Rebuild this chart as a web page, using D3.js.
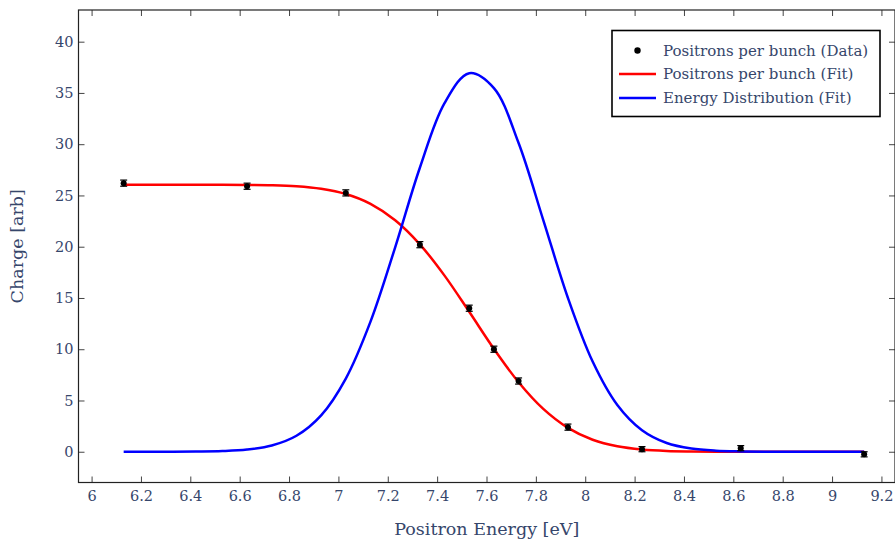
<!DOCTYPE html>
<html><head><meta charset="utf-8">
<script src="https://cdn.jsdelivr.net/npm/d3@7"></script>
<style>
body{margin:0;background:#fff;}
svg{display:block;font-family:"DejaVu Serif",serif;}
</style></head>
<body><svg id="c" width="895" height="542"></svg>
<script>
// Measured data
const energy = [6.13, 6.63, 7.03, 7.33, 7.53, 7.63, 7.73, 7.93, 8.23, 8.63, 9.13];
const charge = [26.2, 25.9, 25.25, 20.2, 14.0, 10.0, 6.9, 2.4, 0.25, 0.35, -0.25];
const chargeErr = [0.3, 0.3, 0.3, 0.3, 0.3, 0.3, 0.3, 0.3, 0.25, 0.25, 0.25];
// Fit curves
const fitEnergy = [6.13, 6.23, 6.33, 6.43, 6.53, 6.63, 6.73, 6.83, 6.93, 7.03, 7.13, 7.23, 7.33, 7.43, 7.53, 7.63, 7.73, 7.83, 7.93, 8.03, 8.13, 8.23, 8.33, 8.43, 8.53, 8.63, 8.73, 8.83, 8.93, 9.03, 9.13];
const chargeFit = [26.05, 26.05, 26.05, 26.05, 26.04, 26.03, 26.0, 25.9, 25.65, 25.14, 24.18, 22.58, 20.23, 17.18, 13.65, 10.04, 6.78, 4.18, 2.33, 1.17, 0.53, 0.22, 0.08, 0.03, 0.01, 0, 0, 0, 0, 0, 0];
const energyDist = [0, 0, 0.004, 0.017, 0.064, 0.21, 0.61, 1.56, 3.55, 7.14, 12.69, 19.94, 27.7, 34.0, 36.93, 35.47, 30.11, 22.6, 15.0, 8.8, 4.56, 2.1, 0.85, 0.31, 0.1, 0.03, 0, 0, 0, 0, 0];
const xTicks = [6, 6.2, 6.4, 6.6, 6.8, 7, 7.2, 7.4, 7.6, 7.8, 8, 8.2, 8.4, 8.6, 8.8, 9, 9.2];
const yTicks = [0, 5, 10, 15, 20, 25, 30, 35, 40];
const legendLabels = ["Positrons per bunch (Data)", "Positrons per bunch (Fit)", "Energy Distribution (Fit)"];

const textColor = "#36466b";
const L = 78.5, R = 895, T = 10, B = 482.5;
const svg = d3.select("#c");
const x = d3.scaleLinear().domain([5.947, 9.255]).range([L, R]);
const y = d3.scaleLinear().domain([-3.0, 43.09]).range([B, T]);

// axes
const gx = svg.append("g").attr("transform", `translate(0,${B})`)
  .call(d3.axisBottom(x).tickValues(xTicks).tickSize(-6).tickPadding(8).tickFormat(d3.format("~g")));
const gy = svg.append("g").attr("transform", `translate(${L},0)`)
  .call(d3.axisLeft(y).tickValues(yTicks).tickSize(-6).tickPadding(5));
const gxt = svg.append("g").attr("transform", `translate(0,${T})`)
  .call(d3.axisTop(x).tickValues(xTicks).tickSize(-6).tickFormat(""));
const gyr = svg.append("g").attr("transform", `translate(${R},0)`)
  .call(d3.axisRight(y).tickValues(yTicks).tickSize(-6).tickFormat(""));
[gx, gy, gxt, gyr].forEach(g => {
  g.select(".domain").remove();
  g.selectAll(".tick line").attr("stroke", "#444").attr("stroke-width", 1);
  g.selectAll("text").attr("fill", textColor).style("font-family", "DejaVu Serif").style("font-size", "14.5px");
});

// frame
svg.append("rect").attr("x", L).attr("y", T).attr("width", R - L).attr("height", B - T)
  .attr("fill", "none").attr("stroke", "#222").attr("stroke-width", 1.2);

// curves
const line = d3.line().x(d => x(d[0])).y(d => y(d[1])).curve(d3.curveCatmullRom);
svg.append("path").datum(fitEnergy.map((e, i) => [e, chargeFit[i]]))
  .attr("d", line).attr("fill", "none").attr("stroke", "#ff0000").attr("stroke-width", 2.5);
svg.append("path").datum(fitEnergy.map((e, i) => [e, energyDist[i]]))
  .attr("d", line).attr("fill", "none").attr("stroke", "#0000ff").attr("stroke-width", 2.5);

// data with error bars
const pts = svg.append("g");
energy.forEach((e, i) => {
  const cx = x(e), y0 = y(charge[i] - chargeErr[i]), y1 = y(charge[i] + chargeErr[i]);
  pts.append("line").attr("x1", cx).attr("x2", cx).attr("y1", y0).attr("y2", y1).attr("stroke", "#000").attr("stroke-width", 1.2);
  [y0, y1].forEach(yy => pts.append("line").attr("x1", cx - 3.5).attr("x2", cx + 3.5).attr("y1", yy).attr("y2", yy).attr("stroke", "#000").attr("stroke-width", 1.2));
  pts.append("circle").attr("cx", cx).attr("cy", y(charge[i])).attr("r", 3).attr("fill", "#000");
});

// axis titles
svg.append("text").attr("x", (L + R) / 2).attr("y", 535).attr("text-anchor", "middle")
  .attr("fill", textColor).style("font-size", "17.5px").text("Positron Energy [eV]");
svg.append("text").attr("transform", `translate(23,${(T + B) / 2}) rotate(-90)`).attr("text-anchor", "middle")
  .attr("fill", textColor).style("font-size", "17.5px").text("Charge [arb]");

// legend
const lg = svg.append("g");
lg.append("rect").attr("x", 612).attr("y", 30.5).attr("width", 268).attr("height", 86)
  .attr("fill", "#fff").attr("stroke", "#000").attr("stroke-width", 1.6);
const rows = [50.5, 74, 98];
lg.append("circle").attr("cx", 637.5).attr("cy", rows[0]).attr("r", 3.2).attr("fill", "#000");
lg.append("line").attr("x1", 619).attr("x2", 656).attr("y1", rows[1]).attr("y2", rows[1]).attr("stroke", "#ff0000").attr("stroke-width", 2.5);
lg.append("line").attr("x1", 619).attr("x2", 656).attr("y1", rows[2]).attr("y2", rows[2]).attr("stroke", "#0000ff").attr("stroke-width", 2.5);
legendLabels.forEach((t, i) => {
  lg.append("text").attr("x", 663).attr("y", rows[i]).attr("dy", "0.35em")
    .attr("fill", textColor).style("font-size", "15px").text(t);
});
</script></body></html>
